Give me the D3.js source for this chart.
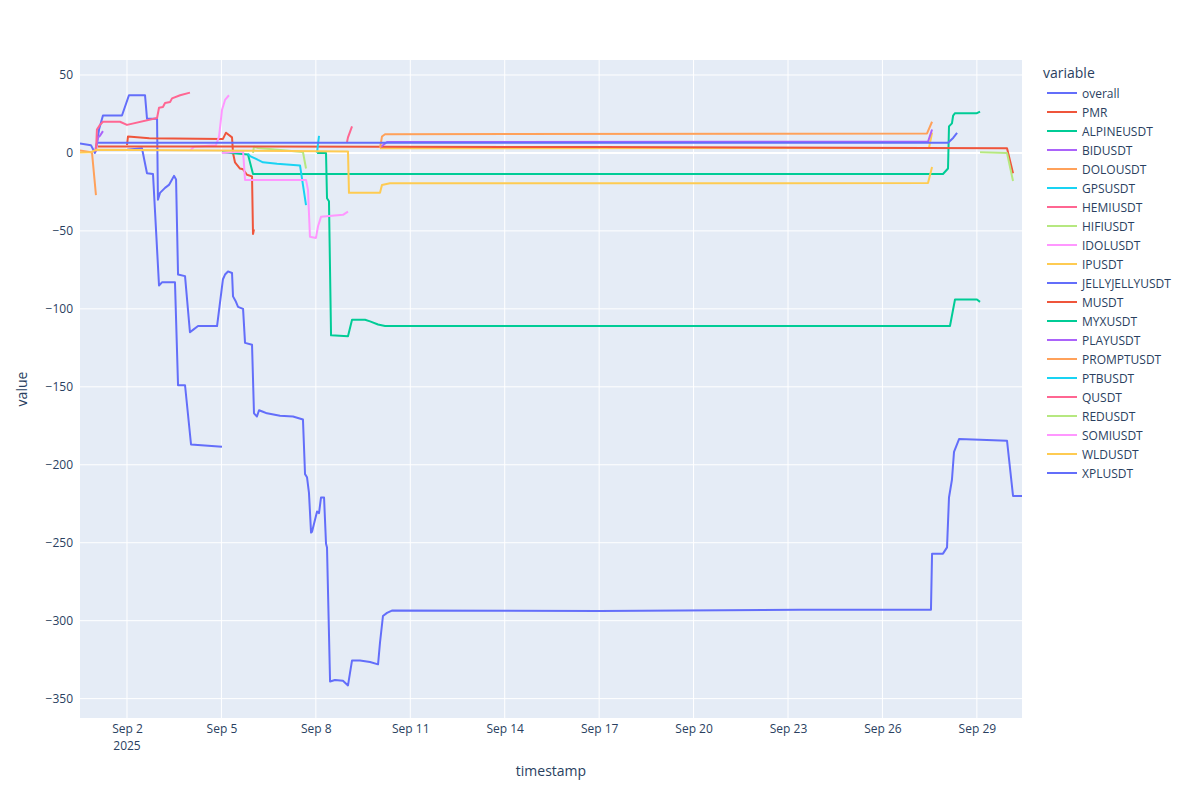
<!DOCTYPE html>
<html>
<head>
<meta charset="utf-8">
<script src="https://cdn.jsdelivr.net/npm/d3@7"></script>
<style>
  body { margin: 0; background: white; }
  svg { font-family: "Open Sans", verdana, arial, sans-serif; }
</style>
</head>
<body>
<div id="viz-container"></div>
<script>
// every series is [timestamp "MM-DD HH:MM" (2025), value]
const overall = [
  ["08-31 12:10", 6], ["08-31 20:30", 5], ["08-31 23:35", 0], ["09-01 00:20", 2],
  ["09-01 02:40", 15], ["09-01 05:40", 24], ["09-01 20:10", 24], ["09-02 01:30", 37],
  ["09-02 13:45", 37], ["09-02 15:15", 22], ["09-02 22:55", 22], ["09-02 23:35", -30],
  ["09-03 01:10", -25.6], ["09-03 05:00", -22.4], ["09-03 08:00", -20.5], ["09-03 10:20", -17],
  ["09-03 11:50", -14.7], ["09-03 13:25", -17], ["09-03 14:55", -78], ["09-03 20:15", -79],
  ["09-04 00:00", -115], ["09-04 02:20", -113.5], ["09-04 06:10", -111], ["09-04 20:40", -111],
  ["09-05 01:10", -81], ["09-05 02:45", -78], ["09-05 05:00", -76], ["09-05 08:05", -77],
  ["09-05 08:50", -92], ["09-05 11:05", -95.5], ["09-05 12:40", -98.7], ["09-05 16:30", -100],
  ["09-05 18:00", -121.8], ["09-05 23:20", -123], ["09-06 00:50", -167], ["09-06 03:05", -169],
  ["09-06 04:40", -165], ["09-06 07:40", -166], ["09-06 10:45", -167], ["09-06 20:40", -168.5],
  ["09-07 06:35", -169], ["09-07 14:10", -171], ["09-07 15:45", -206], ["09-07 17:15", -208],
  ["09-07 18:45", -218], ["09-07 20:20", -243.5], ["09-07 21:05", -243], ["09-08 00:55", -230],
  ["09-08 02:25", -231], ["09-08 03:55", -221], ["09-08 06:15", -221], ["09-08 07:45", -250.6],
  ["09-08 08:30", -253], ["09-08 10:50", -339], ["09-08 14:35", -338], ["09-08 20:40", -338.5],
  ["09-09 00:30", -341.5], ["09-09 03:35", -325.5], ["09-09 09:40", -325.5], ["09-09 17:20", -326.5],
  ["09-09 23:25", -328], ["09-10 00:55", -314], ["09-10 03:10", -297], ["09-10 06:15", -295],
  ["09-10 10:00", -293.5], ["09-17 00:40", -293.8], ["09-23 09:00", -293], ["09-27 13:00", -293],
  ["09-27 13:50", -257], ["09-27 22:10", -257], ["09-28 01:15", -253], ["09-28 02:45", -221],
  ["09-28 05:00", -209.6], ["09-28 06:35", -191.7], ["09-28 10:25", -183.5], ["09-29 02:25", -184],
  ["09-29 23:00", -184.6], ["09-30 03:35", -220], ["09-30 10:25", -220]
];
const pmr = [
  ["09-02 00:00", 5], ["09-02 00:45", 10.5], ["09-02 17:00", 9.5], ["09-05 00:25", 9],
  ["09-05 01:10", 9], ["09-05 03:30", 13], ["09-05 08:05", 10], ["09-05 08:50", 0],
  ["09-05 10:20", -6], ["09-05 14:10", -10], ["09-05 16:30", -10.5], ["09-05 19:30", -14],
  ["09-05 23:20", -15], ["09-06 00:05", -52], ["09-06 00:50", -49]
];
const alpineusdt = [
  ["09-05 00:25", 0.5], ["09-05 20:15", -1], ["09-06 00:05", -13.5], ["09-27 22:10", -13.5],
  ["09-28 02:00", -10], ["09-28 02:45", 17], ["09-28 05:00", 19], ["09-28 05:55", 24],
  ["09-28 07:20", 25.5], ["09-29 00:05", 25.5], ["09-29 02:25", 26.5]
];
const bidusdt = [
  ["08-31 23:35", 1], ["09-01 01:55", 10], ["09-01 03:25", 11], ["09-01 05:40", 14]
];
const dolousdt = [
  ["08-31 12:10", 1.5], ["08-31 20:30", 0.5], ["08-31 21:20", 0], ["09-01 00:20", -27]
];
const gpsusdt = [
  ["09-05 20:15", -0.5], ["09-05 21:50", -2], ["09-06 01:35", -3.5], ["09-06 03:55", -4.5],
  ["09-06 07:40", -6], ["09-06 18:25", -7], ["09-07 11:55", -8], ["09-07 16:30", -33.5]
];
const hemiusdt = [
  ["09-01 00:20", 1], ["09-01 01:05", 15], ["09-01 03:25", 18], ["09-01 05:40", 20],
  ["09-01 18:40", 20], ["09-02 00:00", 18], ["09-02 22:55", 22.4], ["09-03 00:25", 29],
  ["09-03 03:25", 29.5], ["09-03 05:00", 32], ["09-03 08:50", 32.7], ["09-03 10:20", 35],
  ["09-03 16:30", 37], ["09-04 00:00", 38.7]
];
const hifiusdt = [
  ["09-06 00:05", 0], ["09-06 00:50", 4], ["09-06 03:55", 3.2], ["09-07 14:10", 0.6],
  ["09-07 16:30", -10]
];
const idolusdt = [
  ["09-04 00:00", 1.5], ["09-04 03:05", 4], ["09-04 19:50", 5], ["09-04 22:10", 10.5],
  ["09-05 00:25", 27.5], ["09-05 02:45", 34], ["09-05 05:45", 37]
];
const ipusdt = [
  ["09-10 00:55", 3], ["09-27 11:30", 3.2], ["09-27 13:50", 13]
];
const jellyjellyusdt = [
  ["09-02 00:00", 2], ["09-02 11:25", 3], ["09-02 15:15", -13], ["09-02 19:50", -13.5],
  ["09-03 00:25", -85], ["09-03 02:40", -83], ["09-03 12:35", -83], ["09-03 14:55", -149],
  ["09-03 20:15", -149], ["09-04 00:50", -187], ["09-05 00:25", -188.5]
];
const musdt = [
  ["09-01 01:55", 4.2], ["09-17 00:40", 3.8], ["09-29 23:00", 3], ["09-30 03:35", -13]
];
const myxusdt = [
  ["09-08 00:55", 0], ["09-08 07:45", 0], ["09-08 08:30", -29], ["09-08 10:00", -31],
  ["09-08 11:35", -117], ["09-09 00:30", -117.5], ["09-09 03:35", -107], ["09-09 13:30", -107],
  ["09-09 17:20", -108], ["09-09 23:25", -110], ["09-10 04:45", -111], ["09-28 03:30", -111],
  ["09-28 07:20", -94], ["09-29 00:05", -94], ["09-29 02:25", -95.5]
];
const playusdt = [
  ["09-10 01:40", 4], ["09-10 06:15", 7], ["09-27 10:45", 7.2], ["09-27 13:50", 15]
];
const promptusdt = [
  ["09-10 00:55", 3], ["09-10 02:25", 10.5], ["09-10 04:45", 12], ["09-27 10:00", 12.5],
  ["09-27 13:50", 20]
];
const ptbusdt = [
  ["09-08 00:55", 0], ["09-08 01:40", 6], ["09-08 02:25", 11]
];
const qusdt = [
  ["09-08 23:45", 7], ["09-09 00:30", 10], ["09-09 03:35", 17]
];
const redusdt = [
  ["09-29 02:25", 0.5], ["09-29 23:00", 0], ["09-30 03:35", -18]
];
const somiusdt = [
  ["09-05 00:25", 0], ["09-05 16:30", 1], ["09-05 18:00", -17.3], ["09-07 16:30", -17.3],
  ["09-07 18:00", -23.7], ["09-07 19:30", -53.8], ["09-08 00:05", -54.5], ["09-08 01:40", -47],
  ["09-08 03:55", -41], ["09-08 20:40", -39.7], ["09-09 00:30", -37.6]
];
const wldusdt = [
  ["08-31 12:10", 0.3], ["08-31 20:30", 0.5], ["09-01 00:20", 2], ["09-09 00:30", 1],
  ["09-09 01:15", -25.6], ["09-10 00:55", -25.6], ["09-10 02:25", -20.5], ["09-10 08:30", -19.5],
  ["09-27 10:45", -19.3], ["09-27 13:50", -9]
];
const xplusdt = [
  ["09-01 01:55", 6.5], ["09-28 02:00", 6.5], ["09-28 05:55", 9.6], ["09-28 08:55", 12.8]
];

const seriesNames = ["overall", "PMR", "ALPINEUSDT", "BIDUSDT", "DOLOUSDT", "GPSUSDT", "HEMIUSDT",
  "HIFIUSDT", "IDOLUSDT", "IPUSDT", "JELLYJELLYUSDT", "MUSDT", "MYXUSDT", "PLAYUSDT",
  "PROMPTUSDT", "PTBUSDT", "QUSDT", "REDUSDT", "SOMIUSDT", "WLDUSDT", "XPLUSDT"];
const seriesValues = [overall, pmr, alpineusdt, bidusdt, dolousdt, gpsusdt, hemiusdt,
  hifiusdt, idolusdt, ipusdt, jellyjellyusdt, musdt, myxusdt, playusdt,
  promptusdt, ptbusdt, qusdt, redusdt, somiusdt, wldusdt, xplusdt];
const palette = ["#636efa", "#EF553B", "#00cc96", "#ab63fa", "#FFA15A",
  "#19d3f3", "#FF6692", "#B6E880", "#FF97FF", "#FECB52"];

const xTickDays = ["09-02", "09-05", "09-08", "09-11", "09-14", "09-17", "09-20", "09-23", "09-26", "09-29"];
const yTicks = [50, 0, -50, -100, -150, -200, -250, -300, -350];

const width = 1200, height = 800;
const margin = {top: 60, right: 178, bottom: 82, left: 80};
const textColor = "#2a3f5f";

const parseTime = d3.timeParse("%Y-%m-%d %H:%M");
const parseDay = d3.timeParse("%Y-%m-%d");

let series = seriesNames.map((name, i) => ({
  name: name,
  color: palette[i % palette.length],
  points: seriesValues[i].map(p => ({t: parseTime("2025-" + p[0]), v: p[1]}))
}));

let allPoints = series.flatMap(s => s.points);

let x = d3.scaleTime()
  .domain(d3.extent(allPoints, d => d.t))
  .range([margin.left, width - margin.right]);

let yExt = d3.extent(allPoints, d => d.v);
let pad = (yExt[1] - yExt[0]) * 0.055;
let y = d3.scaleLinear()
  .domain([yExt[0] - pad, yExt[1] + pad])
  .range([height - margin.bottom, margin.top]);

let viz = d3.select("#viz-container")
  .append("svg")
    .attr("width", width)
    .attr("height", height);

// plot background
viz.append("rect")
  .attr("x", margin.left)
  .attr("y", margin.top)
  .attr("width", width - margin.left - margin.right)
  .attr("height", height - margin.top - margin.bottom)
  .attr("fill", "#E5ECF6");

viz.append("clipPath")
  .attr("id", "plot-clip")
  .append("rect")
    .attr("x", margin.left)
    .attr("y", margin.top)
    .attr("width", width - margin.left - margin.right)
    .attr("height", height - margin.top - margin.bottom);

// grid lines
let xTickDates = xTickDays.map(d => parseDay("2025-" + d));

viz.append("g")
  .selectAll("line")
  .data(xTickDates)
  .enter()
  .append("line")
    .attr("x1", d => x(d))
    .attr("x2", d => x(d))
    .attr("y1", margin.top)
    .attr("y2", height - margin.bottom)
    .attr("stroke", "white")
    .attr("stroke-width", 1);

viz.append("g")
  .selectAll("line")
  .data(yTicks)
  .enter()
  .append("line")
    .attr("x1", margin.left)
    .attr("x2", width - margin.right)
    .attr("y1", d => y(d))
    .attr("y2", d => y(d))
    .attr("stroke", "white")
    .attr("stroke-width", d => d === 0 ? 2 : 1);

// axes
let xAxis = d3.axisBottom(x)
  .tickValues(xTickDates)
  .tickSize(0)
  .tickPadding(6)
  .tickFormat(d3.timeFormat("%b %-d"));

let xg = viz.append("g")
  .attr("transform", "translate(0," + (height - margin.bottom) + ")")
  .call(xAxis);
xg.select(".domain").remove();
xg.selectAll("text")
  .attr("fill", textColor)
  .attr("font-size", 12)
  .attr("font-family", "'Open Sans', verdana, arial, sans-serif");

// the year under the first tick
viz.append("text")
  .attr("x", x(xTickDates[0]))
  .attr("y", height - margin.bottom + 32)
  .attr("text-anchor", "middle")
  .attr("fill", textColor)
  .attr("font-size", 12)
  .text("2025");

let yAxis = d3.axisLeft(y)
  .tickValues(yTicks)
  .tickSize(0)
  .tickPadding(7)
  .tickFormat(d => d < 0 ? "\u2212" + Math.abs(d) : d);

let yg = viz.append("g")
  .attr("transform", "translate(" + margin.left + ",0)")
  .call(yAxis);
yg.select(".domain").remove();
yg.selectAll("text")
  .attr("fill", textColor)
  .attr("font-size", 12)
  .attr("font-family", "'Open Sans', verdana, arial, sans-serif");

// axis titles
viz.append("text")
  .attr("x", (margin.left + width - margin.right) / 2)
  .attr("y", 776)
  .attr("text-anchor", "middle")
  .attr("fill", textColor)
  .attr("font-size", 14)
  .text("timestamp");

viz.append("text")
  .attr("transform", "translate(27," + (margin.top + height - margin.bottom) / 2 + ") rotate(-90)")
  .attr("text-anchor", "middle")
  .attr("fill", textColor)
  .attr("font-size", 14)
  .text("value");

// the lines
let line = d3.line()
  .x(d => x(d.t))
  .y(d => y(d.v));

viz.append("g")
  .attr("clip-path", "url(#plot-clip)")
  .selectAll("path")
  .data(series)
  .enter()
  .append("path")
    .attr("d", d => line(d.points))
    .attr("fill", "none")
    .attr("stroke", d => d.color)
    .attr("stroke-width", 2)
    .attr("stroke-linejoin", "round");

// legend
let legend = viz.append("g")
  .attr("transform", "translate(1043,0)");

legend.append("text")
  .attr("x", 0)
  .attr("y", 78)
  .attr("fill", textColor)
  .attr("font-size", 14)
  .text("variable");

let items = legend.selectAll(".item")
  .data(series)
  .enter()
  .append("g")
    .attr("class", "item")
    .attr("transform", (d, i) => "translate(0," + (93 + i * 19) + ")");

items.append("line")
  .attr("x1", 4)
  .attr("x2", 34)
  .attr("y1", 0)
  .attr("y2", 0)
  .attr("stroke", d => d.color)
  .attr("stroke-width", 2);

items.append("text")
  .attr("x", 39)
  .attr("y", 4.5)
  .attr("fill", textColor)
  .attr("font-size", 12)
  .text(d => d.name);
</script>
</body>
</html>
